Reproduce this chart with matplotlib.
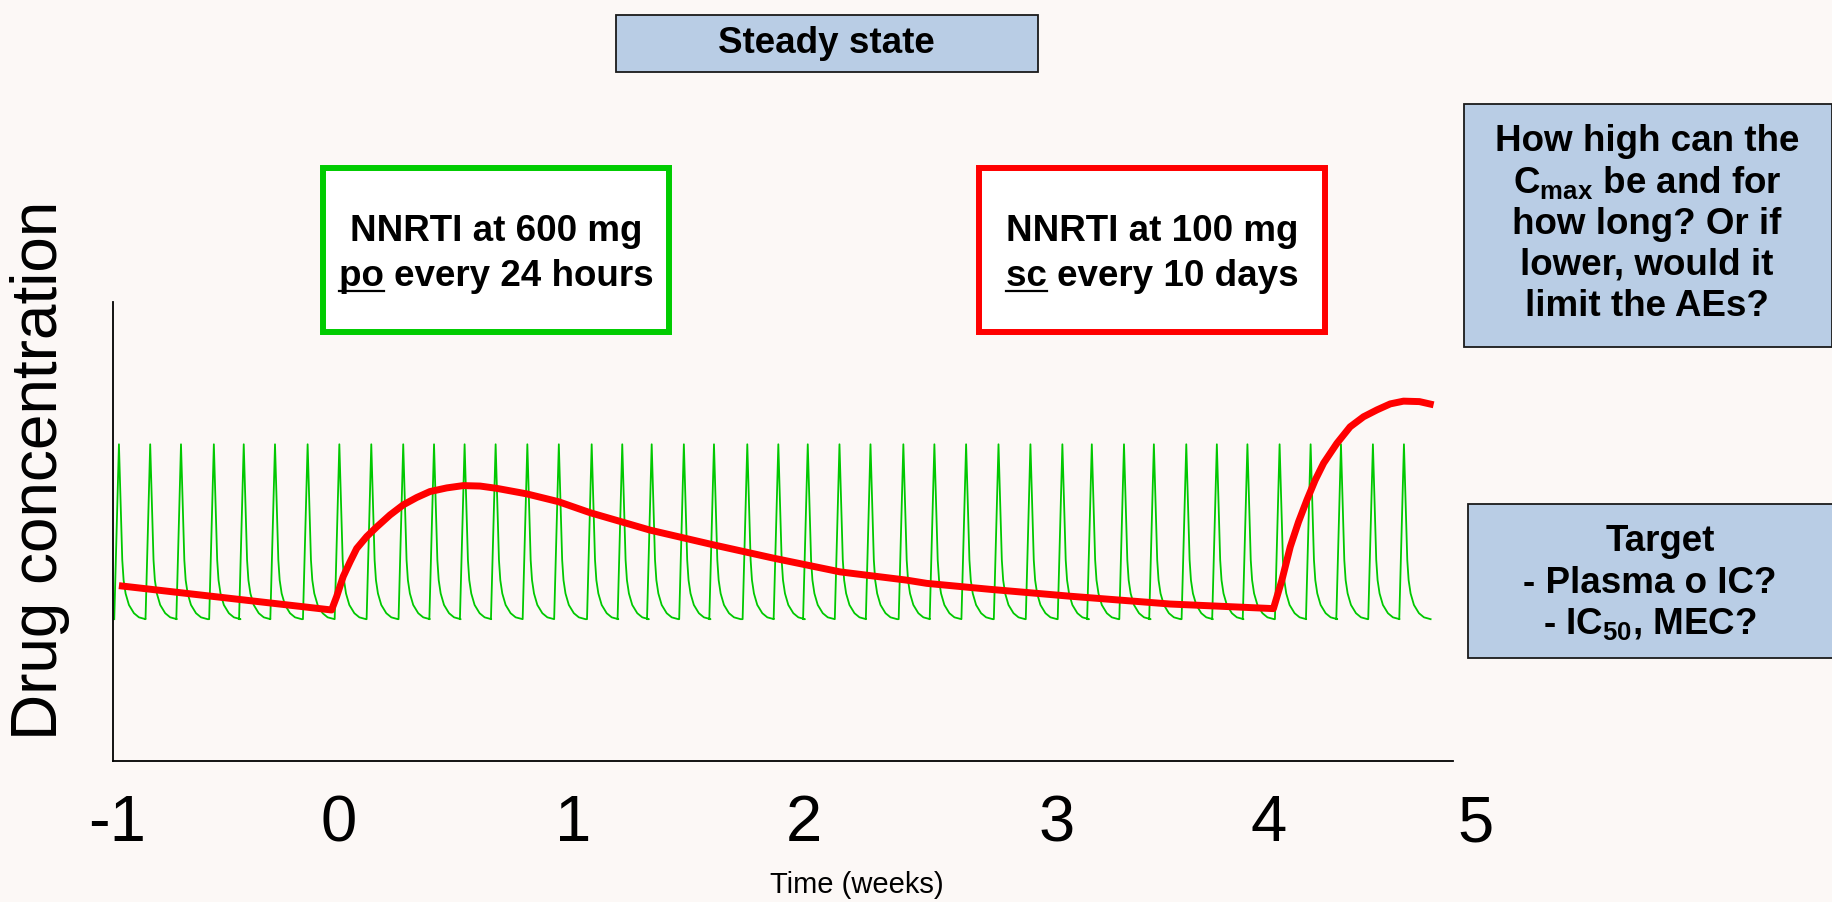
import numpy as np
import matplotlib
matplotlib.use("Agg")
import matplotlib.pyplot as plt
from matplotlib.patches import Rectangle
from matplotlib.lines import Line2D

plt.rcParams['font.family'] = ['Liberation Sans', 'DejaVu Sans']
plt.rcParams['mathtext.default'] = 'regular'

# oral dosing (green): time of each daily peak, in weeks
green_peaks = [-1.010, -0.873, -0.738, -0.594, -0.463, -0.326, -0.183, -0.044,
               0.096, 0.236, 0.371, 0.505, 0.641, 0.780, 0.918, 1.062, 1.196,
               1.325, 1.466, 1.598, 1.744, 1.880, 2.009, 2.148, 2.284, 2.428,
               2.564, 2.703, 2.845, 2.985, 3.125, 3.254, 3.395, 3.526, 3.668,
               3.802, 3.936, 4.077, 4.213, 4.346, 4.486, 4.622]
# shape of one oral cycle: time from peak (weeks) and concentration
green_cycle_t = [-0.0205, 0.0, 0.0073, 0.0146, 0.0205, 0.0292, 0.0438, 0.0658, 0.0877, 0.1169]
green_cycle_c = [30.9, 69.0, 56.1, 43.8, 39.4, 36.5, 34.0, 32.2, 31.3, 30.9]

# subcutaneous dosing (red)
red_t = [-1.010, -0.078, -0.056, -0.027, 0.003, 0.032, 0.076, 0.120, 0.178,
         0.236, 0.295, 0.353, 0.427, 0.499, 0.573, 0.646, 0.777, 0.916,
         1.055, 1.318, 1.595, 1.858, 2.151, 2.443, 2.531, 2.808, 3.159, 3.597,
         4.050, 4.087, 4.124, 4.160, 4.197, 4.233, 4.270, 4.328, 4.386, 4.445,
         4.504, 4.562, 4.620, 4.690, 4.752]
red_c = [38.2, 32.9, 35.8, 40.2, 43.4, 46.3, 48.9, 51.0, 53.6,
         55.8, 57.4, 58.7, 59.5, 60.0, 59.9, 59.4, 58.2, 56.5,
         54.1, 50.3, 47.1, 44.2, 41.2, 39.4, 38.7, 37.4, 35.9, 34.2,
         33.2, 39.4, 46.7, 52.1, 56.9, 61.2, 64.9, 69.2, 72.8, 75.0,
         76.5, 77.8, 78.4, 78.3, 77.6]

tick_labels = ['-1', '0', '1', '2', '3', '4', '5']
# where the slide puts each label along the time axis (weeks)
tick_pos = [-1.019, -0.046, 0.980, 1.993, 3.098, 4.027, 4.935]

W, H = 1833, 902
fig = plt.figure(figsize=(W / 100, H / 100), dpi=100)
fig.patch.set_facecolor('#fcf8f6')


def fx(px):
    return px / W


def fy(py):
    return 1 - py / H


# axes: left spine at 113 px, bottom at 761 px, top at 302 px
x_left, x_right = -1.036, 5.1
ax = fig.add_axes([fx(113), fy(761), fx(1513) - fx(113), fy(302) - fy(761)])
ax.patch.set_visible(False)

gt, gc = [], []
for p in green_peaks:
    gt += [p + t for t in green_cycle_t]
    gc += green_cycle_c
ax.plot(gt, gc, color='#00c800', lw=1.3, zorder=2)
ax.plot(red_t, red_c, color='#ff0000', lw=5, solid_joinstyle='round',
        solid_capstyle='butt', zorder=3)

ax.set_xlim(x_left, x_right)
ax.set_ylim(0, 100)
for s in ['top', 'right']:
    ax.spines[s].set_visible(False)
ax.spines['bottom'].set_bounds(x_left, 4.838)
for s in ['left', 'bottom']:
    ax.spines[s].set_linewidth(1.3)
    ax.spines[s].set_color('black')
ax.set_yticks([])
ax.set_xticks(tick_pos)
ax.set_xticklabels(tick_labels)
ax.tick_params(axis='x', length=0, pad=24, labelsize=47)

fig.text(fx(40), fy(470), 'Drug concentration', rotation=90, fontsize=46,
         ha='center', va='center')
fig.text(fx(857), fy(885), 'Time (weeks)', fontsize=21, ha='center', va='center')


def box(x0, y0, x1, y1, face, edge, lw):
    r = Rectangle((fx(x0), fy(y1)), fx(x1) - fx(x0), fy(y0) - fy(y1),
                  transform=fig.transFigure, facecolor=face, edgecolor=edge,
                  linewidth=lw, zorder=1)
    fig.add_artist(r)


blue = '#b9cde5'
box(616, 15, 1038, 72, blue, '#1a1a1a', 1.3)
box(323, 168, 669, 332, 'white', '#00cc00', 4.3)
box(979, 168, 1325, 332, 'white', '#ff0000', 4.3)
box(1464, 104, 1832, 347, blue, '#1a1a1a', 1.3)
box(1468, 504, 1845, 658, blue, '#1a1a1a', 1.3)

bold = dict(fontsize=26.5, fontweight='bold', ha='center', va='baseline', zorder=5)
fig.text(fx(826), fy(53), 'Steady state', **bold)

renderer = fig.canvas.get_renderer()


def underlined(cx, base, line, word):
    t = fig.text(fx(cx), fy(base), line, **bold)
    left = t.get_window_extent(renderer).x0
    tmp = fig.text(0, 0, word, **bold)
    w = tmp.get_window_extent(renderer).width
    tmp.remove()
    yl = (H - base - 4.5) / H
    fig.add_artist(Line2D([left / W, (left + w) / W], [yl, yl],
                          transform=fig.transFigure, color='black', lw=1.6, zorder=5))


fig.text(fx(496), fy(241), 'NNRTI at 600 mg', **bold)
underlined(496, 286, 'po every 24 hours', 'po')
fig.text(fx(1152), fy(241), 'NNRTI at 100 mg', **bold)
underlined(1152, 286, 'sc every 10 days', 'sc')

cmax_lines = ['How high can the', 'C$_{max}$ be and for', 'how long? Or if',
              'lower, would it', 'limit the AEs?']
for line, base in zip(cmax_lines, [151, 193, 234, 275, 316]):
    fig.text(fx(1647), fy(base), line, **bold)

fig.text(fx(1660), fy(551), 'Target', **bold)
fig.text(fx(1650), fy(593), '- Plasma o IC?', **bold)
fig.text(fx(1650), fy(634), '- IC$_{50}$, MEC?', **bold)

fig.savefig('out.png', dpi=100, facecolor=fig.get_facecolor())
